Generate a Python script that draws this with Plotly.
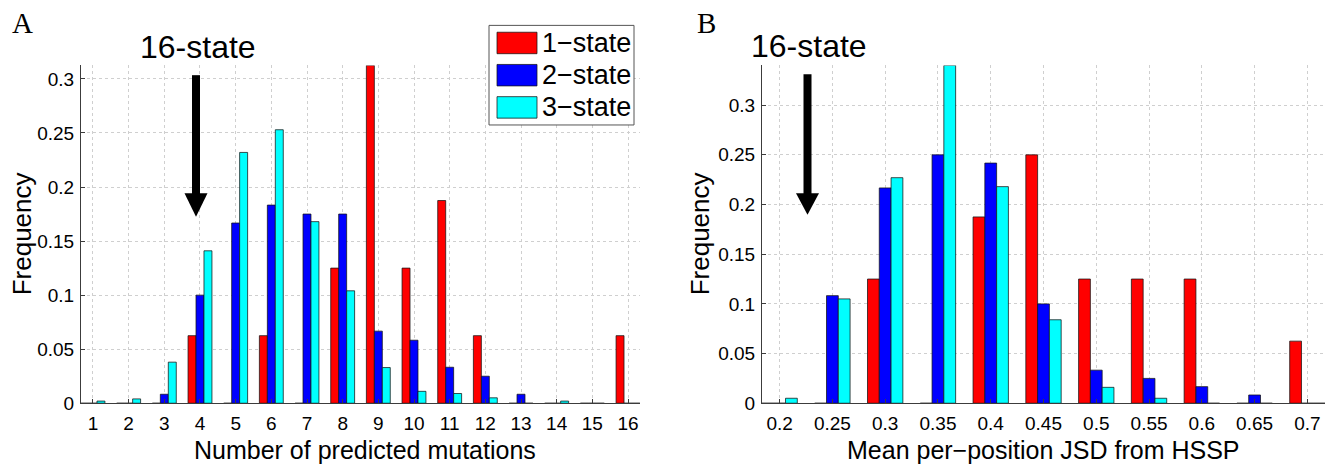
import plotly.graph_objects as go

W, H = 1329, 465

# ---------------- data ----------------
mut_bins = list(range(1, 17))
mut_1state = [0, 0, 0, 0.0625, 0, 0.0625, 0, 0.125, 0.3125, 0.125, 0.1875, 0.0625, 0, 0, 0, 0.0625]
mut_2state = [0, 0, 0.0083, 0.1, 0.1667, 0.1833, 0.175, 0.175, 0.0667, 0.0583, 0.0333, 0.025, 0.0083, 0, 0, 0]
mut_3state = [0.002, 0.004, 0.038, 0.141, 0.232, 0.253, 0.168, 0.104, 0.033, 0.011, 0.009, 0.005, 0, 0.002, 0, 0]

jsd_bins = [0.2, 0.25, 0.3, 0.35, 0.4, 0.45, 0.5, 0.55, 0.6, 0.65, 0.7]
jsd_1state = [0, 0, 0.125, 0, 0.1875, 0.25, 0.125, 0.125, 0.125, 0, 0.0625]
jsd_2state = [0, 0.1083, 0.2167, 0.25, 0.2417, 0.1, 0.0333, 0.025, 0.0167, 0.0083, 0]
jsd_3state = [0.005, 0.105, 0.227, 0.34, 0.218, 0.084, 0.016, 0.005, 0, 0, 0]

series_names = ["1\u2212state", "2\u2212state", "3\u2212state"]
colors = ["#ff0000", "#0000ff", "#00ffff"]

mut_ticks = [str(v) for v in mut_bins]
jsd_ticks = ["0.2", "0.25", "0.3", "0.35", "0.4", "0.45", "0.5", "0.55", "0.6", "0.65", "0.7"]
y_ticks = [0, 0.05, 0.1, 0.15, 0.2, 0.25, 0.3]
y_ticklabels = ["0", "0.05", "0.1", "0.15", "0.2", "0.25", "0.3"]

# ---------------- helpers ----------------
def px(x):
    return x / W

def py(y):
    return 1 - y / H

FONT = "Liberation Sans, Arial, Helvetica, sans-serif"
SERIF = "Liberation Serif, Times New Roman, serif"
EDGE = "rgba(20,20,20,0.75)"

fig = go.Figure()

for vals, name, col in zip([mut_1state, mut_2state, mut_3state], series_names, colors):
    fig.add_trace(go.Bar(x=mut_bins, y=vals, name=name, marker=dict(color=col, line=dict(color=EDGE, width=1)),
                         xaxis="x", yaxis="y", showlegend=False))
for vals, name, col in zip([jsd_1state, jsd_2state, jsd_3state], series_names, colors):
    fig.add_trace(go.Bar(x=jsd_bins, y=vals, name=name, marker=dict(color=col, line=dict(color=EDGE, width=1)),
                         xaxis="x2", yaxis="y2", showlegend=False))

ydom = [py(413), py(67)]

axis_common = dict(
    showline=True, linecolor="#3c3c3c", linewidth=1,
    ticks="inside", ticklen=4, tickcolor="#3c3c3c",
    showgrid=True, gridcolor="#cfcfcf", griddash="dot", gridwidth=1,
    zeroline=False, tickfont=dict(family=FONT, size=19, color="black"),
)

fig.update_layout(
    width=W, height=H,
    margin=dict(l=0, r=0, t=0, b=0),
    paper_bgcolor="white", plot_bgcolor="white",
    barmode="group", bargap=0.33, bargroupgap=0,
    xaxis=dict(domain=[px(81), px(640)], range=[0.664, 16.336], anchor="y",
               tickmode="array", tickvals=mut_bins, ticktext=mut_ticks, ticklabelstandoff=3, **axis_common),
    yaxis=dict(domain=ydom, range=[0, 0.3125], anchor="x",
               tickmode="array", tickvals=y_ticks, ticktext=y_ticklabels, ticklabelstandoff=2, **axis_common),
    xaxis2=dict(domain=[px(762), px(1325)], range=[0.1833, 0.7167], anchor="y2",
                tickmode="array", tickvals=jsd_bins, ticktext=jsd_ticks, ticklabelstandoff=3, **axis_common),
    yaxis2=dict(domain=ydom, range=[0, 0.34], anchor="x2",
                tickmode="array", tickvals=y_ticks, ticktext=y_ticklabels, ticklabelstandoff=2, **axis_common),
)

annotations = []
# axis titles
annotations.append(dict(text="Number of predicted mutations", x=px(365), y=py(461), xref="paper", yref="paper",
                        showarrow=False, xanchor="center", yanchor="middle", font=dict(family=FONT, size=25, color="black")))
annotations.append(dict(text="Mean per\u2212position JSD from HSSP", x=px(1043), y=py(461), xref="paper", yref="paper",
                        showarrow=False, xanchor="center", yanchor="middle", font=dict(family=FONT, size=25, color="black")))
for xc in (22, 700):
    annotations.append(dict(text="Frequency", x=px(xc), y=py(240), xref="paper", yref="paper", textangle=-90,
                            showarrow=False, xanchor="center", yanchor="middle", font=dict(family=FONT, size=26, color="black")))
# panel letters
annotations.append(dict(text="A", x=px(22), y=py(24), xref="paper", yref="paper", showarrow=False,
                        xanchor="center", yanchor="middle", font=dict(family=SERIF, size=29, color="black")))
annotations.append(dict(text="B", x=px(706), y=py(24), xref="paper", yref="paper", showarrow=False,
                        xanchor="center", yanchor="middle", font=dict(family=SERIF, size=29, color="black")))
# 16-state labels
annotations.append(dict(text="16-state", x=px(198), y=py(48), xref="paper", yref="paper", showarrow=False,
                        xanchor="center", yanchor="middle", font=dict(family=FONT, size=32, color="black")))
annotations.append(dict(text="16-state", x=px(809), y=py(47), xref="paper", yref="paper", showarrow=False,
                        xanchor="center", yanchor="middle", font=dict(family=FONT, size=32, color="black")))

shapes = []
# arrows
for xc, ytop, ybase, ytip in ((196, 77, 198, 222), (807.5, 76, 198, 220)):
    shapes.append(dict(type="rect", xref="paper", yref="paper", x0=px(xc - 4), x1=px(xc + 4), y0=py(ybase + 1), y1=py(ytop),
                       fillcolor="black", line=dict(width=0)))
    shapes.append(dict(type="path", xref="paper", yref="paper",
                       path=f"M {px(xc-11.5)} {py(ybase)} L {px(xc+11.5)} {py(ybase)} L {px(xc)} {py(ytip)} Z",
                       fillcolor="black", line=dict(width=0)))

# custom legend (panel A)
shapes.append(dict(type="rect", xref="paper", yref="paper", x0=px(489), x1=px(634), y0=py(128), y1=py(26),
                   fillcolor="white", line=dict(color="#555555", width=1)))
for i, (name, col) in enumerate(zip(series_names, colors)):
    yc = 44 + 33 * i
    shapes.append(dict(type="rect", xref="paper", yref="paper", x0=px(497), x1=px(537), y0=py(yc + 11), y1=py(yc - 11),
                       fillcolor=col, line=dict(color=EDGE, width=1)))
    annotations.append(dict(text=name, x=px(540), y=py(yc), xref="paper", yref="paper", showarrow=False,
                            xanchor="left", yanchor="middle", font=dict(family=FONT, size=27, color="black")))

fig.update_layout(annotations=annotations, shapes=shapes)

fig.write_html("out.html")
